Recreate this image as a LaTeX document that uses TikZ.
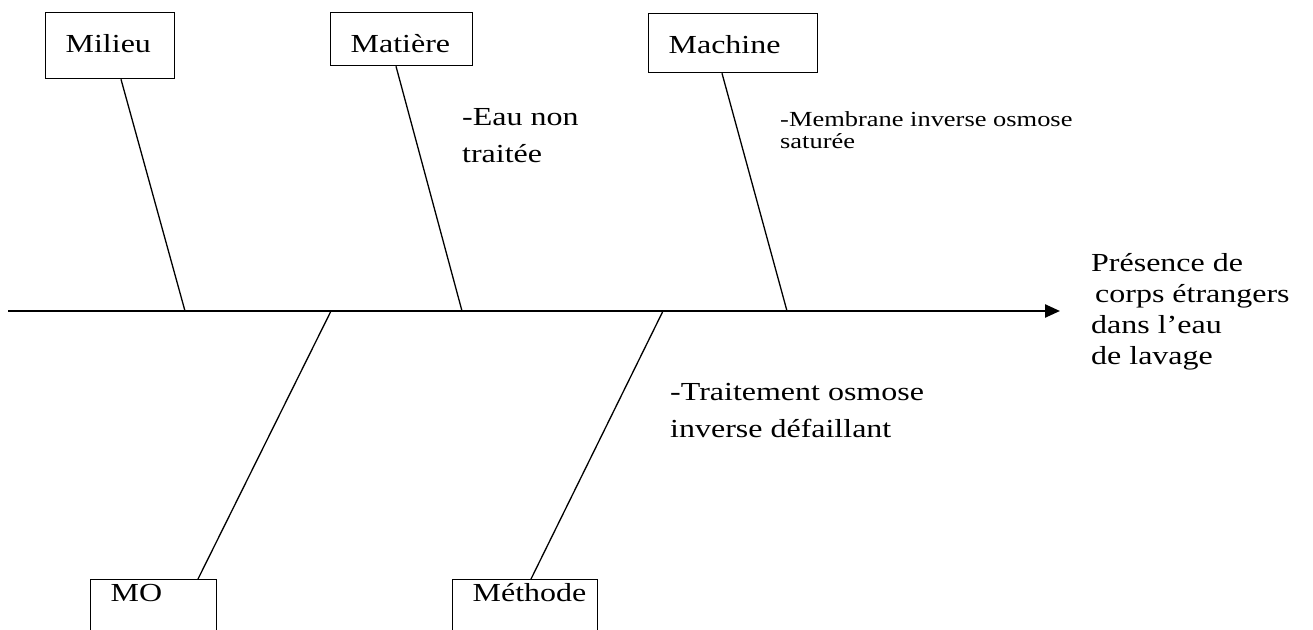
\documentclass[tikz,border=0pt]{standalone}
\usepackage{fontspec}
\setmainfont{Liberation Serif}[FakeStretch=1.23]
\usetikzlibrary{arrows.meta}

\begin{document}
\begin{tikzpicture}[x=1pt, y=-1pt,
  catbox/.style={draw, line width=1.3pt, anchor=north west, inner xsep=20pt,
    inner ysep=0pt, align=left, font=\fontsize{26}{30}\selectfont},
  note/.style={anchor=base west, inner sep=0pt, align=left},
  bone/.style={line width=1.3pt},
  spine/.style={line width=2.4pt, -{Triangle[length=15pt, width=13pt]}}]

\path[use as bounding box, clip] (0,0) rectangle (1313,629);

% category boxes
\node[catbox, text width=89pt,  text height=40pt, text depth=26pt] (milieu)  at (45,12)   {Milieu};
\node[catbox, text width=102pt, text height=40pt, text depth=13pt] (matiere) at (330,12)  {Matière};
\node[catbox, text width=129pt, text height=40pt, text depth=19pt] (machine) at (648,13)  {Machine};
\node[catbox, text width=86pt,  text height=22pt, text depth=60pt] (mo)      at (90,579)  {MO};
\node[catbox, text width=105pt, text height=22pt, text depth=60pt] (methode) at (452,579) {Méthode};

% spine and its end points
\coordinate (tail) at (8,311);
\coordinate (head) at (1060,311);
\coordinate (s1) at (185,311);
\coordinate (s2) at (462,311);
\coordinate (s3) at (787,311);
\coordinate (s4) at (331,311);
\coordinate (s5) at (663,311);

\draw[spine] (tail) -- (head);

% bones
\draw[bone] ([xshift=76pt]milieu.south west)  -- (s1);
\draw[bone] ([xshift=66pt]matiere.south west) -- (s2);
\draw[bone] ([xshift=74pt]machine.south west) -- (s3);
\draw[bone] ([xshift=108pt]mo.north west)     -- (s4);
\draw[bone] ([xshift=79pt]methode.north west) -- (s5);

% causes (anchored on the baseline of their last line)
\node[note, font=\fontsize{26}{37}\selectfont] (eau) at (462,162)
  {-Eau non\\traitée};
\node[note, font=\fontsize{21.5}{22}\selectfont] (membrane) at (780,148)
  {-Membrane inverse osmose\\saturée};
\node[note, font=\fontsize{26}{37}\selectfont] (traitement) at (670,437)
  {-Traitement osmose\\inverse défaillant};

% effect
\node[note, font=\fontsize{26}{30.7}\selectfont] (effet) at (1091,364)
  {Présence de\\\hspace*{4pt}corps étrangers\\dans l’eau\\de lavage};

\end{tikzpicture}
\end{document}
